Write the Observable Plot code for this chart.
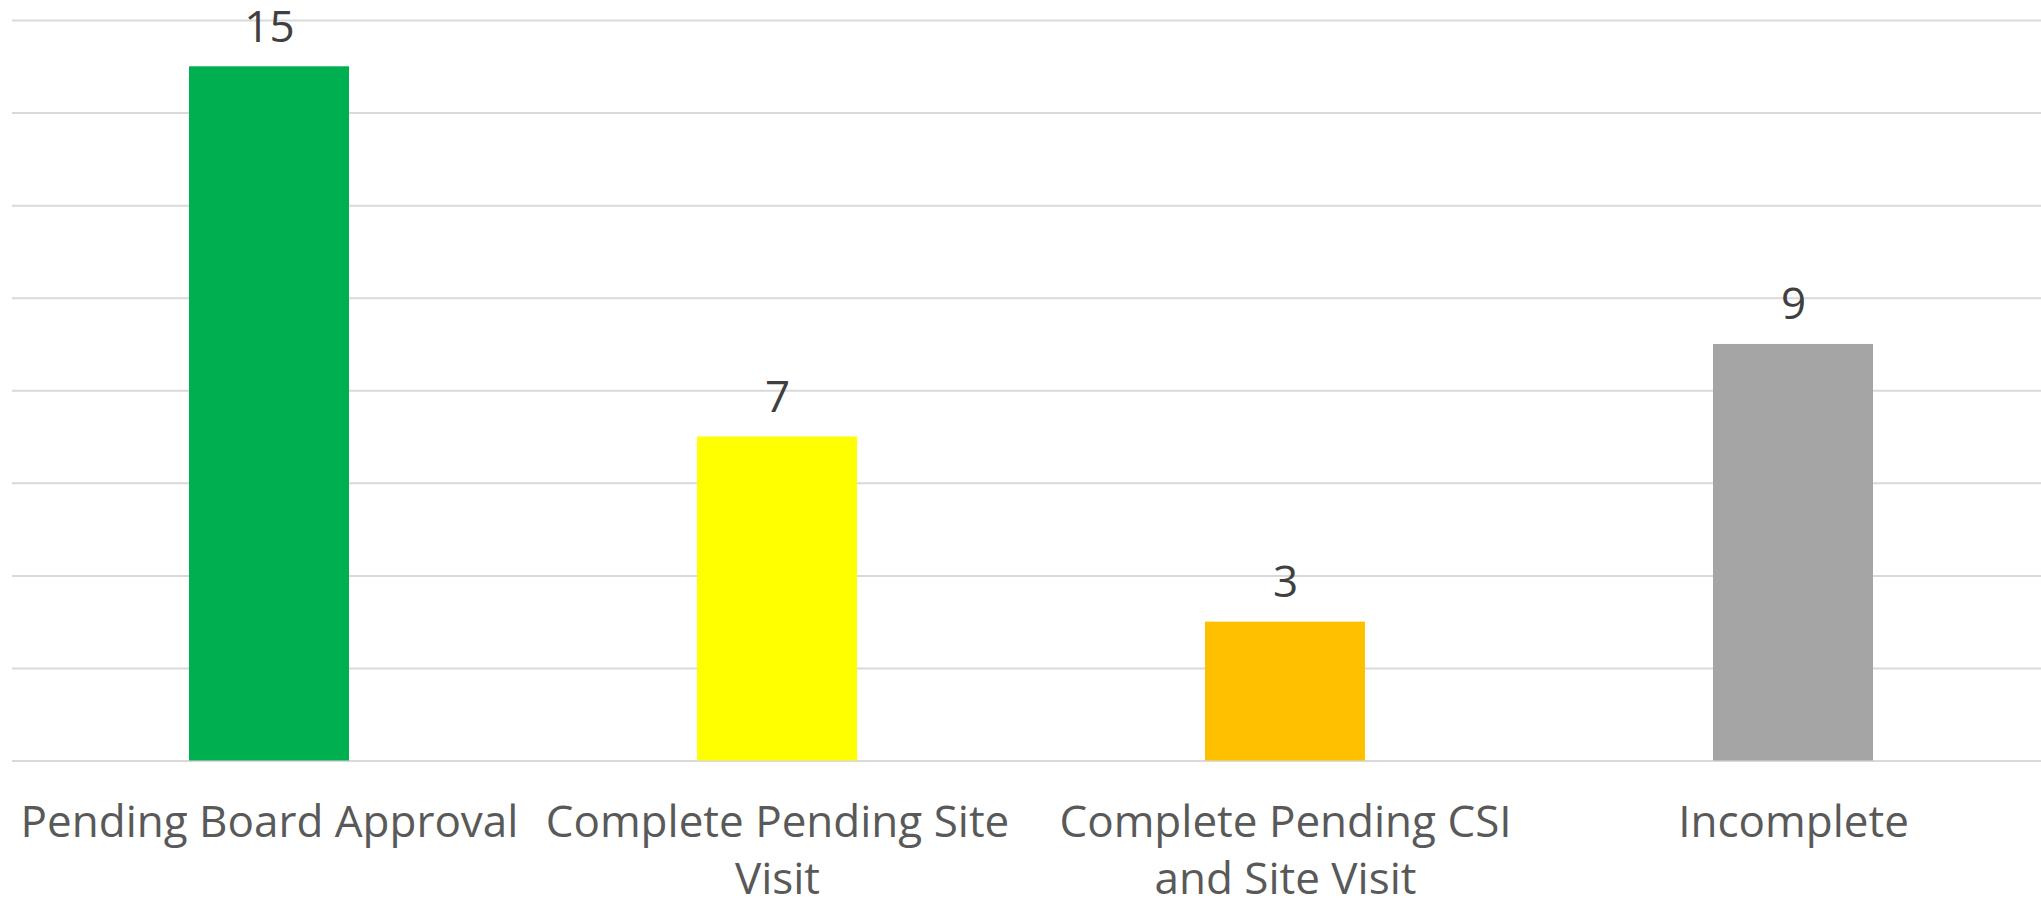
<!DOCTYPE html>
<html>
<head>
<meta charset="utf-8">
<script src="https://cdn.jsdelivr.net/npm/d3@7"></script>
<script src="https://cdn.jsdelivr.net/npm/@observablehq/plot@0.6"></script>
<style>
  html, body { margin: 0; padding: 0; background: #ffffff; }
  #chart svg { display: block; }
</style>
</head>
<body>
<div id="chart"></div>
<script>
const categories = ["Pending Board Approval", "Complete Pending Site Visit", "Complete Pending CSI and Site Visit", "Incomplete"];
const tickLabels = ["Pending Board Approval", "Complete Pending Site\nVisit", "Complete Pending CSI\nand Site Visit", "Incomplete"];
const values = [15, 7, 3, 9];
const colors = ["#00B050", "#FFFF00", "#FFC000", "#A5A5A5"];
const gridTicks = [0, 2, 4, 6, 8, 10, 12, 14, 16];

const data = categories.map((c, i) => ({category: c, value: values[i], color: colors[i]}));
const labelOf = new Map(categories.map((c, i) => [c, tickLabels[i]]));

const chart = Plot.plot({
  width: 2041,
  height: 900,
  marginTop: 20,
  marginBottom: 139.5,
  marginLeft: 12,
  marginRight: 0,
  style: {fontFamily: "'Open Sans', sans-serif", background: "#ffffff"},
  x: {domain: categories, range: [12.5, 2048.5], paddingInner: 0.6857, paddingOuter: 0.3429, label: null},
  y: {domain: [0, 16], label: null},
  marks: [
    Plot.ruleY(gridTicks, {stroke: "#d9d9d9", strokeWidth: 2}),
    Plot.barY(data, {x: "category", y: "value", fill: "color"}),
    Plot.text(data, {x: "category", y: "value", text: d => String(d.value), lineAnchor: "bottom", dy: -25, fontSize: 44, fill: "#404040"}),
    Plot.axisX({tickSize: 0, tickPadding: 35, fontSize: 44, fill: "#595959", lineHeight: 1.3, tickFormat: d => labelOf.get(d), label: null}),
    Plot.axisY({ticks: [], label: null, tickSize: 0})
  ]
});
document.getElementById("chart").appendChild(chart);
</script>
</body>
</html>
